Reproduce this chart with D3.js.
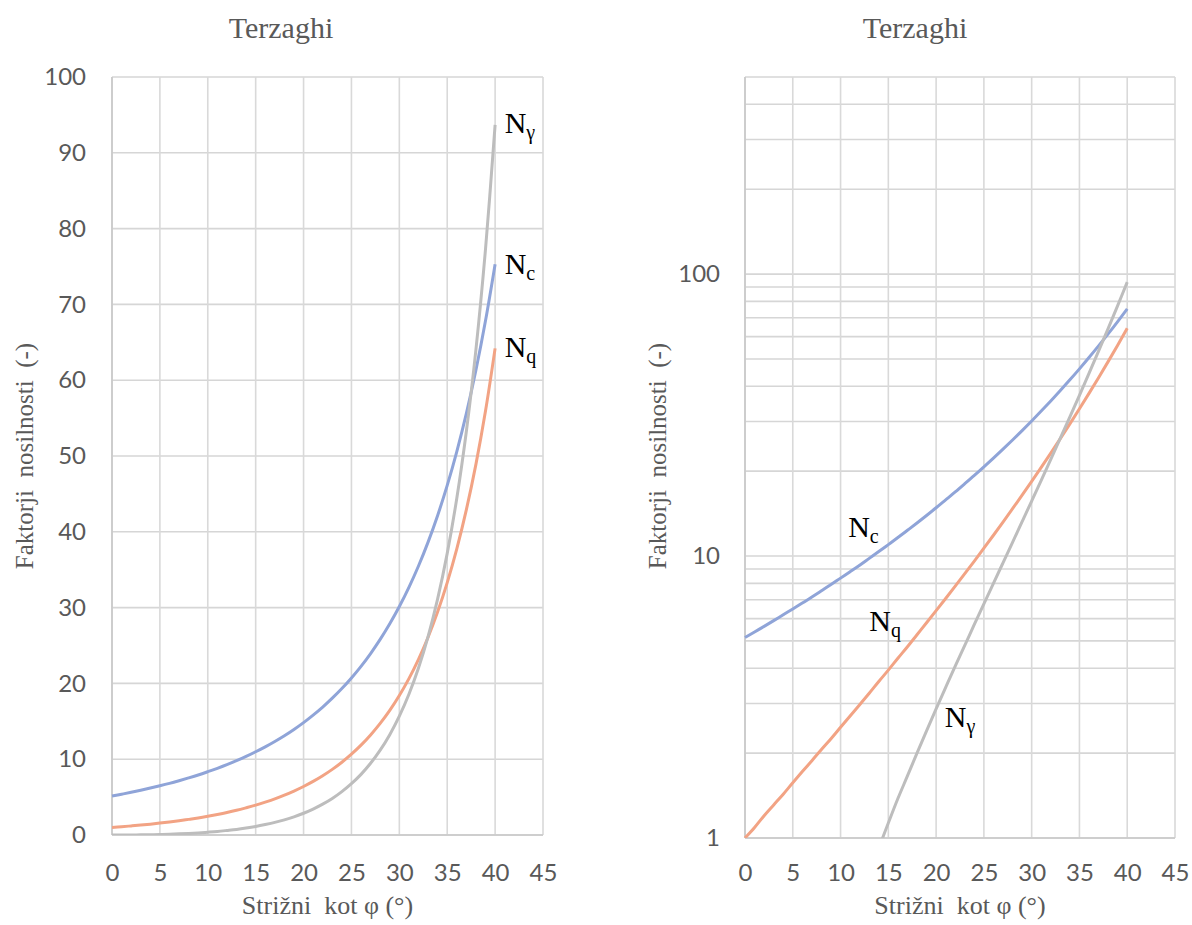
<!DOCTYPE html>
<html>
<head>
<meta charset="utf-8">
<script src="https://cdn.jsdelivr.net/npm/d3@7"></script>
<style>
  body { margin: 0; background: #fff; }
  svg { display: block; }
  .tick text { font-family: Lato, "Liberation Sans", sans-serif; font-size: 24px; fill: #595959; }
  .serif { font-family: "Liberation Serif", "Times New Roman", serif; }
</style>
</head>
<body>
<div id="chart"></div>
<script>
// shear angle (deg) and bearing capacity factors
const phi = [0, 1, 2, 3, 4, 5, 6, 7, 8, 9, 10, 11, 12, 13, 14, 15, 16, 17, 18, 19, 20,
    21, 22, 23, 24, 25, 26, 27, 28, 29, 30, 31, 32, 33, 34, 35, 36, 37, 38, 39, 40];
const Nc = [5.14, 5.38, 5.63, 5.90, 6.19, 6.49, 6.81, 7.16, 7.53, 7.92, 8.35, 8.80, 9.28, 9.81,
    10.37, 10.98, 11.63, 12.34, 13.10, 13.93, 14.83, 15.82, 16.88, 18.05, 19.32, 20.72, 22.25,
    23.94, 25.80, 27.86, 30.14, 32.67, 35.49, 38.64, 42.16, 46.12, 50.59, 55.63, 61.35, 67.87, 75.31];
const Nq = [1.00, 1.09, 1.20, 1.31, 1.43, 1.57, 1.72, 1.88, 2.06, 2.25, 2.47, 2.71, 2.97, 3.26,
    3.59, 3.94, 4.34, 4.77, 5.26, 5.80, 6.40, 7.07, 7.82, 8.66, 9.60, 10.66, 11.85, 13.20, 14.72,
    16.44, 18.40, 20.63, 23.18, 26.09, 29.44, 33.30, 37.75, 42.92, 48.93, 55.96, 64.20];
const Ngamma = [0.00, 0.002, 0.01, 0.02, 0.04, 0.07, 0.11, 0.15, 0.21, 0.28, 0.37, 0.47, 0.60,
    0.74, 0.92, 1.13, 1.38, 1.66, 2.00, 2.40, 2.87, 3.42, 4.07, 4.82, 5.72, 6.77, 8.00, 9.46,
    11.19, 13.24, 15.67, 18.56, 22.02, 26.17, 31.15, 37.15, 44.43, 53.27, 64.07, 77.33, 93.69];

const xTicks = [0, 5, 10, 15, 20, 25, 30, 35, 40, 45];
const yTicksLin = [0, 10, 20, 30, 40, 50, 60, 70, 80, 90, 100];
const yTicksLog = [1, 10, 100];
const yGridLog = [1, 2, 3, 4, 5, 6, 7, 8, 9, 10, 20, 30, 40, 50, 60, 70, 80, 90, 100, 200, 300, 400, 500];

const title = "Terzaghi";
const xLabel = "Strižni  kot φ (°)";
const yLabel = "Faktorji  nosilnosti  (-)";

const series = [
    {key: "c", values: Nc, color: "#8FA4D8"},
    {key: "q", values: Nq, color: "#F2A384"},
    {key: "γ", values: Ngamma, color: "#BDBDBD"}
];

// label anchors in data units (phi, value)
const labelsLin = [
    {key: "γ", phi: 41, val: 92.6},
    {key: "c", phi: 41, val: 74},
    {key: "q", phi: 41, val: 63}
];
const labelsLog = [
    {key: "c", phi: 10.8, val: 11.7},
    {key: "q", phi: 13.0, val: 5.4},
    {key: "γ", phi: 20.9, val: 2.48}
];

const svg = d3.select("#chart").append("svg")
    .attr("width", 1192)
    .attr("height", 925);

function drawChart(opt) {
    let g = svg.append("g");

    let x = d3.scaleLinear().domain([0, 45]).range([opt.left, opt.right]);
    let y = opt.log
        ? d3.scaleLog().domain([1, 500]).range([opt.bottom, opt.top])
        : d3.scaleLinear().domain([0, 100]).range([opt.bottom, opt.top]);

    let yGrid = opt.log ? yGridLog : yTicksLin;

    // gridlines
    g.selectAll(".hgrid").data(yGrid).enter().append("line")
        .attr("x1", opt.left).attr("x2", opt.right)
        .attr("y1", d => y(d)).attr("y2", d => y(d))
        .attr("stroke", "#d6d6d6").attr("stroke-width", 1.6);
    g.selectAll(".vgrid").data(xTicks).enter().append("line")
        .attr("x1", d => x(d)).attr("x2", d => x(d))
        .attr("y1", opt.top).attr("y2", opt.bottom)
        .attr("stroke", "#d9d9d9").attr("stroke-width", 1.6);

    // axis lines
    g.append("line").attr("x1", opt.left).attr("x2", opt.left)
        .attr("y1", opt.top).attr("y2", opt.bottom)
        .attr("stroke", "#c8c8c8").attr("stroke-width", 1.6);
    g.append("line").attr("x1", opt.left).attr("x2", opt.right)
        .attr("y1", opt.bottom).attr("y2", opt.bottom)
        .attr("stroke", "#c8c8c8").attr("stroke-width", 1.6);

    // axes (text only)
    let xAxis = d3.axisBottom(x).tickValues(xTicks).tickSize(0).tickPadding(opt.log ? 26 : 29);
    g.append("g").attr("transform", `translate(0,${opt.bottom})`).call(xAxis)
        .call(s => s.select(".domain").remove());

    let yAxis = d3.axisLeft(y).tickValues(opt.log ? yTicksLog : yTicksLin)
        .tickFormat(d3.format("d")).tickSize(0).tickPadding(opt.log ? 25 : 26);
    g.append("g").attr("transform", `translate(${opt.left},0)`).call(yAxis)
        .call(s => s.select(".domain").remove());

    // clip for the lines
    let clipId = "clip" + (opt.log ? "log" : "lin");
    svg.append("clipPath").attr("id", clipId).append("rect")
        .attr("x", opt.left - 3).attr("y", opt.top - 3)
        .attr("width", opt.right - opt.left + 6).attr("height", opt.bottom - opt.top + 3);

    let line = d3.line()
        .defined(d => !opt.log || d.v > 0)
        .x(d => x(d.p))
        .y(d => y(d.v))
        .curve(d3.curveCatmullRom);

    series.forEach(s => {
        let pts = phi.map((p, i) => ({p: p, v: s.values[i]}));
        g.append("path")
            .datum(pts)
            .attr("clip-path", `url(#${clipId})`)
            .attr("fill", "none")
            .attr("stroke", s.color)
            .attr("stroke-width", 3)
            .attr("d", line);
    });

    // series labels
    let labels = opt.log ? labelsLog : labelsLin;
    labels.forEach(l => {
        let t = g.append("text").attr("class", "serif")
            .attr("x", x(l.phi)).attr("y", y(l.val))
            .attr("fill", "#000").attr("font-size", 30);
        t.append("tspan").text("N");
        t.append("tspan").text(l.key).attr("font-size", 20).attr("dy", 6);
    });

    // title and axis titles
    g.append("text").attr("class", "serif")
        .attr("x", opt.titleX).attr("y", 38)
        .attr("text-anchor", "middle").attr("font-size", 30).attr("fill", "#595959")
        .text(title);
    g.append("text").attr("class", "serif")
        .attr("x", (opt.left + opt.right) / 2 + opt.xLabelDx).attr("y", opt.xLabelY)
        .attr("text-anchor", "middle").attr("font-size", 26).attr("fill", "#595959")
        .attr("xml:space", "preserve")
        .text(xLabel);
    g.append("text").attr("class", "serif")
        .attr("transform", `translate(${opt.yLabelX},456) rotate(-90)`)
        .attr("text-anchor", "middle").attr("font-size", 25).attr("fill", "#595959")
        .attr("xml:space", "preserve")
        .text(yLabel);
}

drawChart({left: 112, right: 543, top: 77, bottom: 835, log: false,
    titleX: 281, xLabelDx: 0, xLabelY: 914, yLabelX: 33});
drawChart({left: 745, right: 1175, top: 77, bottom: 838, log: true,
    titleX: 915, xLabelDx: 0, xLabelY: 914, yLabelX: 666});
</script>
</body>
</html>
